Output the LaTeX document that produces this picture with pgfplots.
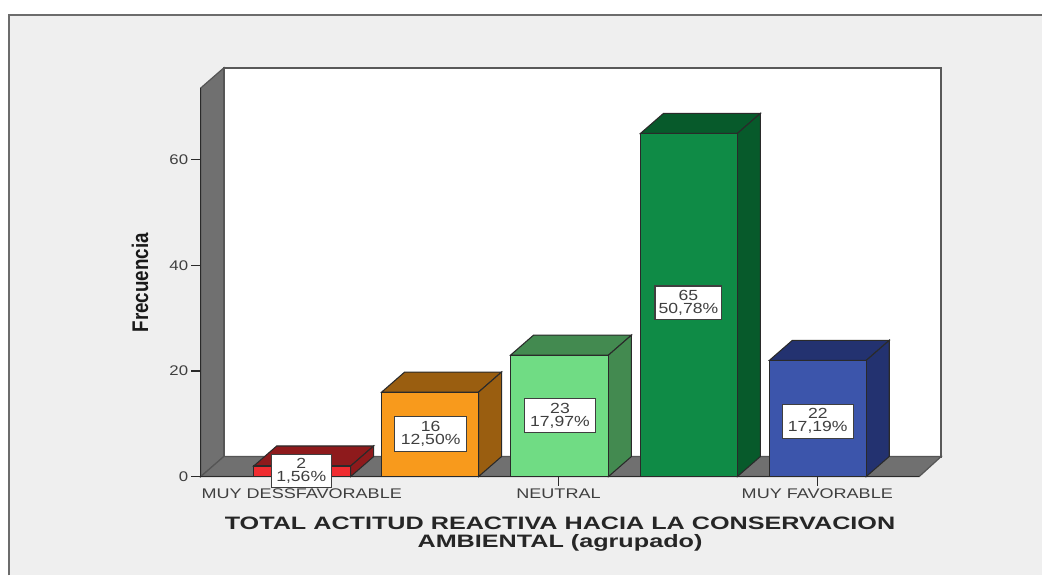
\documentclass[border=0pt]{standalone}
\usepackage{fontspec}
\usepackage{pgfplots}
\pgfplotsset{compat=1.18}
\setmainfont{Liberation Sans}
\newfontfamily\wide[FakeStretch=1.2]{Liberation Sans}
\newfontfamily\widetick[FakeStretch=1.29]{Liberation Sans}
\newfontfamily\widelab[FakeStretch=1.4]{Liberation Sans}
\newfontfamily\narrow[FakeStretch=0.83]{Liberation Sans}
\definecolor{panel}{HTML}{EFEFEF}
\definecolor{wall}{HTML}{707070}
\definecolor{edge}{HTML}{2A2A2A}
\definecolor{txt}{HTML}{3F3F3F}
\definecolor{rF}{HTML}{F02C30}\definecolor{rD}{HTML}{8E1A1C}
\definecolor{oF}{HTML}{F89A1C}\definecolor{oD}{HTML}{9A5E10}
\definecolor{lF}{HTML}{70DC84}\definecolor{lD}{HTML}{438A50}
\definecolor{gF}{HTML}{0F8B46}\definecolor{gD}{HTML}{075A2B}
\definecolor{bF}{HTML}{3C55AB}\definecolor{bD}{HTML}{233270}
\tikzset{vlab/.style={draw=txt,line width=0.9pt,fill=white,text=txt,inner sep=0pt,align=center,
  font=\wide\fontsize{11}{10}\selectfont}}
\begin{document}
\begin{tikzpicture}
\begin{axis}[
  x=0.75pt,y=3.962pt,
  xmin=201,xmax=920,ymin=0,ymax=73.63,
  clip=false,axis on top=true,
  axis x line=bottom,axis y line=left,
  axis line style={draw=edge,line width=0.9pt,-},
  tick style={draw=edge,line width=0.8pt},
  ytick={0,20,40,60},
  xtick={302,559,818},
  xticklabels={MUY DESSFAVORABLE,NEUTRAL,MUY FAVORABLE},
  major tick length=7pt,
  tick align=outside,
  /pgf/number format/assume math mode=true,
  ticklabel style={text=txt,font=\wide\fontsize{10.5}{12}\selectfont},
  xticklabel style={yshift=1.5pt,font=\widetick\fontsize{10.5}{12}\selectfont},
  yticklabel style={xshift=1pt},
  every axis x label/.style={at={(axis description cs:0.5,-0.1476)},anchor=center},
  every axis y label/.style={at={(axis description cs:-0.0848,0.4987)},anchor=center,rotate=90},
  xlabel={TOTAL ACTITUD REACTIVA HACIA LA CONSERVACION\\AMBIENTAL (agrupado)},
  xlabel style={align=center,text=black!85,font=\widelab\bfseries\fontsize{13.5}{13.5}\selectfont},
  ylabel={Frecuencia},
  ylabel style={text=black!90,font=\narrow\bfseries\fontsize{17}{18}\selectfont},
]
% page and panel
\addplot[fill=white,draw=none] coordinates {(0,-18.74)(1043,-18.74)(1043,90.29)(0,90.29)} --cycle;
\addplot[fill=panel,draw=none] coordinates {(9,-18.74)(1043,-18.74)(1043,87.45)(9,87.45)} --cycle;
\addplot[draw=gray!85!black,line width=1.4pt] coordinates {(9,-18.74)(9,87.45)(1043,87.45)};
% back wall, side wall, floor
\addplot[fill=white,draw=gray!70!black,line width=1.5pt] coordinates {(224,3.79)(224,77.42)(942,77.42)(942,3.79)} --cycle;
\addplot[fill=wall,draw=edge!80,line width=0.9pt] coordinates {(201,0)(201,73.63)(224,77.42)(224,3.79)} --cycle;
\addplot[fill=wall,draw=edge!80,line width=0.9pt] coordinates {(201,0)(224,3.79)(942,3.79)(920,0)} --cycle;
% red, 2
\addplot[fill=rD,draw=edge,line width=0.8pt] coordinates {(254,2)(277,5.79)(374,5.79)(351,2)} --cycle;
\addplot[fill=rD,draw=edge,line width=0.8pt] coordinates {(351,0)(351,2)(374,5.79)(374,3.79)} --cycle;
\addplot[ybar,bar width=72.75pt,bar shift=0pt,fill=rF,draw=edge,line width=0.8pt] coordinates {(302.5,2)};
% orange, 16
\addplot[fill=oD,draw=edge,line width=0.8pt] coordinates {(382,16)(405,19.79)(502,19.79)(479,16)} --cycle;
\addplot[fill=oD,draw=edge,line width=0.8pt] coordinates {(479,0)(479,16)(502,19.79)(502,3.79)} --cycle;
\addplot[ybar,bar width=72.75pt,bar shift=0pt,fill=oF,draw=edge,line width=0.8pt] coordinates {(430.5,16)};
% light green, 23
\addplot[fill=lD,draw=edge,line width=0.8pt] coordinates {(511,23)(534,26.79)(632,26.79)(609,23)} --cycle;
\addplot[fill=lD,draw=edge,line width=0.8pt] coordinates {(609,0)(609,23)(632,26.79)(632,3.79)} --cycle;
\addplot[ybar,bar width=73.5pt,bar shift=0pt,fill=lF,draw=edge,line width=0.8pt] coordinates {(560,23)};
% green, 65
\addplot[fill=gD,draw=edge,line width=0.8pt] coordinates {(641,65)(664,68.79)(761,68.79)(738,65)} --cycle;
\addplot[fill=gD,draw=edge,line width=0.8pt] coordinates {(738,0)(738,65)(761,68.79)(761,3.79)} --cycle;
\addplot[ybar,bar width=72.75pt,bar shift=0pt,fill=gF,draw=edge,line width=0.8pt] coordinates {(689.5,65)};
% blue, 22
\addplot[fill=bD,draw=edge,line width=0.8pt] coordinates {(770,22)(793,25.79)(890,25.79)(867,22)} --cycle;
\addplot[fill=bD,draw=edge,line width=0.8pt] coordinates {(867,0)(867,22)(890,25.79)(890,3.79)} --cycle;
\addplot[ybar,bar width=72.75pt,bar shift=0pt,fill=bF,draw=edge,line width=0.8pt] coordinates {(818.5,22)};
% value labels
\coordinate (lab2) at (axis cs:301.5,1.04);
\node[vlab,minimum width=54pt,minimum height=26.25pt] at (axis cs:431,8.04) {16\\12,50\%};
\node[vlab,minimum width=53.25pt,minimum height=25.5pt] at (axis cs:560.5,11.55) {23\\17,97\%};
\node[vlab,minimum width=50.25pt,minimum height=25.5pt] at (axis cs:689,32.9) {65\\50,78\%};
\node[vlab,minimum width=53.25pt,minimum height=25.5pt] at (axis cs:818.5,10.5) {22\\17,19\%};
\end{axis}
\node[vlab,minimum width=45pt,minimum height=24.75pt] at (lab2) {2\\1,56\%};
\end{tikzpicture}
\end{document}
